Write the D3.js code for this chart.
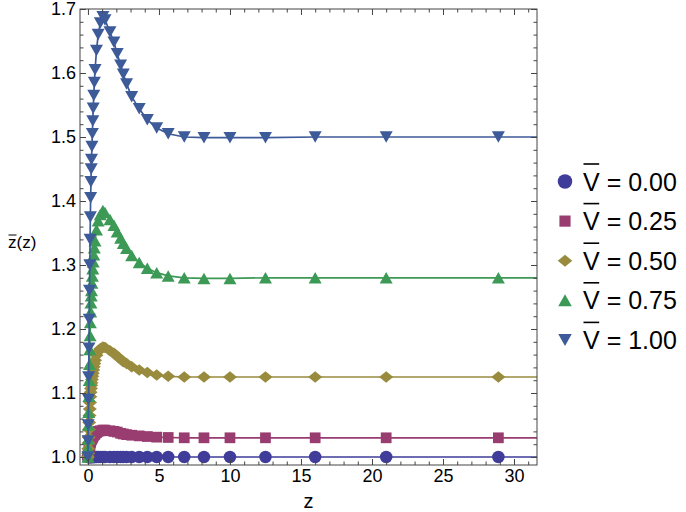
<!DOCTYPE html>
<html>
<head>
<meta charset="utf-8">
<script src="https://cdn.jsdelivr.net/npm/d3@7"></script>
<style>
  body { margin: 0; background: #fff; }
  text { font-family: "Liberation Sans", Arial, sans-serif; }
</style>
</head>
<body>
<script>
// sample points (z), shared by every curve
const zGrid = [0, 0.01, 0.02, 0.035, 0.05, 0.07, 0.09, 0.11, 0.13, 0.15, 0.17, 0.19, 0.21, 0.23, 0.25,
  0.28, 0.31, 0.34, 0.37, 0.41, 0.45, 0.5, 0.6, 0.72, 0.87, 1.05, 1.2, 1.55, 1.83, 2.06, 2.3, 2.49,
  2.72, 3.08, 3.61, 4.18, 4.84, 5.65, 6.78, 8.17, 10.0, 12.5, 16.0, 21.0, 28.9]
// the curves themselves continue to the right edge of the frame
const zLineEnd = 31.62

const zbarV000 = [1, 1, 1, 1, 1, 1, 1, 1, 1, 1, 1, 1, 1, 1, 1,
  1, 1, 1, 1, 1, 1, 1, 1, 1, 1, 1, 1, 1, 1, 1, 1, 1,
  1, 1, 1, 1, 1, 1, 1, 1, 1, 1, 1, 1, 1]
const zbarV025 = [1.0, 1.0015, 1.003, 1.005, 1.0075, 1.010, 1.013, 1.016, 1.018, 1.020, 1.0225, 1.024, 1.026, 1.027, 1.028,
  1.029, 1.030, 1.0315, 1.033, 1.034, 1.035, 1.036, 1.038, 1.040, 1.041, 1.042, 1.042, 1.041, 1.040, 1.039, 1.037, 1.036,
  1.035, 1.034, 1.033, 1.032, 1.031, 1.0305, 1.030, 1.030, 1.030, 1.030, 1.030, 1.030, 1.030]
const zbarV050 = [1.0, 1.006, 1.013, 1.022, 1.031, 1.043, 1.054, 1.065, 1.075, 1.085, 1.094, 1.101, 1.107, 1.112, 1.116,
  1.121, 1.126, 1.131, 1.136, 1.141, 1.146, 1.151, 1.159, 1.165, 1.169, 1.172, 1.171, 1.166, 1.162, 1.157, 1.153, 1.149,
  1.146, 1.141, 1.136, 1.132, 1.128, 1.126, 1.125, 1.125, 1.125, 1.125, 1.125, 1.125, 1.125]
const zbarV075 = [1.0, 1.014, 1.028, 1.05, 1.07, 1.095, 1.12, 1.145, 1.168, 1.19, 1.21, 1.227, 1.241, 1.252, 1.26,
  1.272, 1.283, 1.294, 1.305, 1.316, 1.327, 1.338, 1.355, 1.369, 1.379, 1.385, 1.382, 1.371, 1.362, 1.352, 1.342, 1.334,
  1.326, 1.315, 1.304, 1.295, 1.288, 1.283, 1.280, 1.279, 1.279, 1.28, 1.28, 1.28, 1.28]
const zbarV100 = [1.0, 1.025, 1.05, 1.09, 1.125, 1.17, 1.215, 1.26, 1.30, 1.34, 1.375, 1.405, 1.43, 1.45, 1.465,
  1.485, 1.505, 1.525, 1.545, 1.565, 1.585, 1.605, 1.635, 1.66, 1.678, 1.688, 1.683, 1.664, 1.648, 1.630, 1.612, 1.598,
  1.583, 1.563, 1.544, 1.527, 1.514, 1.505, 1.500, 1.499, 1.499, 1.499, 1.5, 1.5, 1.5]

const legendLabels = ["0.00", "0.25", "0.50", "0.75", "1.00"]
const seriesValues = [zbarV000, zbarV025, zbarV050, zbarV075, zbarV100]
const xTicks = [0, 5, 10, 15, 20, 25, 30]
const yTicks = [1.0, 1.1, 1.2, 1.3, 1.4, 1.5, 1.6, 1.7]

const colors = ["#3F3D99", "#993D71", "#998B3D", "#3D9956", "#3D5A99"]

// marker shapes, size = overall width in px
const shapeCircle = {draw(ctx, s){ ctx.moveTo(s/2, 0); ctx.arc(0, 0, s/2, 0, 2*Math.PI) }}
const shapeSquare = {draw(ctx, s){ const h = s*0.43; ctx.rect(-h, -h, 2*h, 2*h) }}
const shapeDiamond = {draw(ctx, s){ const w = s*0.56, h = s*0.46
  ctx.moveTo(0, -h); ctx.lineTo(w, 0); ctx.lineTo(0, h); ctx.lineTo(-w, 0); ctx.closePath() }}
const shapeUp = {draw(ctx, s){ const w = s*0.52, h = s*0.46
  ctx.moveTo(0, -h); ctx.lineTo(w, h); ctx.lineTo(-w, h); ctx.closePath() }}
const shapeDown = {draw(ctx, s){ const w = s*0.52, h = s*0.46
  ctx.moveTo(0, h); ctx.lineTo(w, -h); ctx.lineTo(-w, -h); ctx.closePath() }}
const shapes = [shapeCircle, shapeSquare, shapeDiamond, shapeUp, shapeDown]

const width = 686, height = 512
const mLeft = 80, mRight = 537, mTop = 9, mBottom = 465

const svg = d3.select("body").append("svg")
    .attr("width", width)
    .attr("height", height)

const x = d3.scaleLinear().domain([-0.56, 31.62]).range([mLeft, mRight])
const y = d3.scaleLinear().domain([0.9875, 1.7]).range([mBottom, mTop])

// curves
const line = d3.line().x(d => x(d[0])).y(d => y(d[1]))
seriesValues.forEach(function(vals, i){
    const pts = zGrid.map((z, j) => [z, vals[j]])
    const linePts = pts.concat([[zLineEnd, vals[vals.length - 1]]])
    const g = svg.append("g")
    g.append("path")
        .attr("d", line(linePts))
        .attr("fill", "none")
        .attr("stroke", colors[i])
        .attr("stroke-width", 1.7)
    g.selectAll("path.mk")
        .data(pts)
        .join("path")
        .attr("class", "mk")
        .attr("d", d3.symbol().type(shapes[i]).size(12.5))
        .attr("transform", d => `translate(${x(d[0])},${y(d[1])})`)
        .attr("fill", colors[i])
})

// frame with inward ticks (Mathematica style)
const frameCol = "#444"
svg.append("rect")
    .attr("x", mLeft).attr("y", mTop)
    .attr("width", mRight - mLeft).attr("height", mBottom - mTop)
    .attr("fill", "none").attr("stroke", frameCol).attr("stroke-width", 1)

const xAxisB = d3.axisBottom(x).tickValues(xTicks).tickSizeInner(-6).tickSizeOuter(0).tickPadding(4).tickFormat(d3.format("d"))
const xAxisT = d3.axisTop(x).tickValues(xTicks).tickSizeInner(-6).tickSizeOuter(0).tickFormat("")
const xMinor = d3.range(0, 32).filter(v => v % 5 !== 0)
const yAxisL = d3.axisLeft(y).tickValues(yTicks).tickSizeInner(-6).tickSizeOuter(0).tickPadding(4).tickFormat(d3.format(".1f"))
const yAxisR = d3.axisRight(y).tickValues(yTicks).tickSizeInner(-6).tickSizeOuter(0).tickFormat("")
const yMinor = d3.range(1.0, 1.7, 0.02).map(v => +v.toFixed(2)).filter(v => Math.round(v*100) % 10 !== 0)

function styleAxis(g){
    g.select(".domain").remove()
    g.selectAll(".tick line").attr("stroke", frameCol)
    g.selectAll(".tick text").attr("fill", "#000").style("font-size", "18px")
}
svg.append("g").attr("transform", `translate(0,${mBottom})`).call(xAxisB).call(styleAxis)
svg.append("g").attr("transform", `translate(0,${mTop})`).call(xAxisT).call(styleAxis)
svg.append("g").attr("transform", `translate(${mLeft},0)`).call(yAxisL).call(styleAxis)
svg.append("g").attr("transform", `translate(${mRight},0)`).call(yAxisR).call(styleAxis)
svg.append("g").attr("transform", `translate(0,${mBottom})`)
    .call(d3.axisBottom(x).tickValues(xMinor).tickSizeInner(-3.5).tickSizeOuter(0).tickFormat("")).call(styleAxis)
svg.append("g").attr("transform", `translate(0,${mTop})`)
    .call(d3.axisTop(x).tickValues(xMinor).tickSizeInner(-3.5).tickSizeOuter(0).tickFormat("")).call(styleAxis)
svg.append("g").attr("transform", `translate(${mLeft},0)`)
    .call(d3.axisLeft(y).tickValues(yMinor).tickSizeInner(-3.5).tickSizeOuter(0).tickFormat("")).call(styleAxis)
svg.append("g").attr("transform", `translate(${mRight},0)`)
    .call(d3.axisRight(y).tickValues(yMinor).tickSizeInner(-3.5).tickSizeOuter(0).tickFormat("")).call(styleAxis)

// axis labels
svg.append("text").text("z")
    .attr("x", (mLeft + mRight)/2).attr("y", 508)
    .attr("text-anchor", "middle").style("font-size", "20px")

const yl = svg.append("text").attr("x", 8).attr("y", 248).style("font-size", "17px")
const ylz = yl.append("tspan").text("z")
yl.append("tspan").text("(z)")
const zw = ylz.node().getComputedTextLength()
svg.append("line")
    .attr("x1", 8.5).attr("x2", 8 + zw)
    .attr("y1", 235).attr("y2", 235)
    .attr("stroke", "#000").attr("stroke-width", 1)

// legend
const legY0 = 181.5, legStep = 39.6
legendLabels.forEach(function(lab, i){
    const cy = legY0 + i*legStep
    svg.append("path")
        .attr("d", d3.symbol().type(shapes[i]).size(i == 0 ? 14.5 : 13))
        .attr("transform", `translate(565,${cy})`)
        .attr("fill", colors[i])
    const t = svg.append("text")
        .attr("x", 583).attr("y", cy + 9)
        .style("font-size", "25px")
    const vs = t.append("tspan").text("V")
    t.append("tspan").text(" = " + lab)
    const vw = vs.node().getComputedTextLength()
    svg.append("line")
        .attr("x1", 583.5).attr("x2", 583 + vw - 0.5)
        .attr("y1", cy - 17.5).attr("y2", cy - 17.5)
        .attr("stroke", "#000").attr("stroke-width", 1.6)
})
</script>
</body>
</html>
